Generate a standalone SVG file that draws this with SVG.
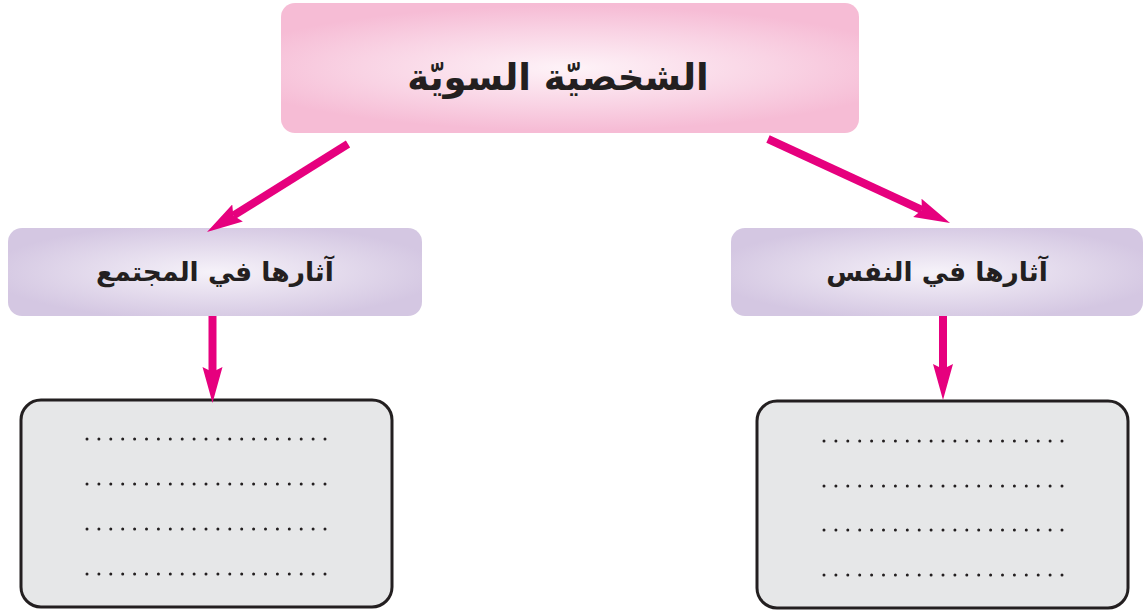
<svg xmlns="http://www.w3.org/2000/svg" width="1148" height="614" viewBox="0 0 1148 614">
<style>
.lbl{font-family:"DejaVu Sans",sans-serif;font-weight:bold;fill:#231f20;text-anchor:middle}
.arr{stroke:#e6007e;stroke-width:8;fill:none;marker-end:url(#head)}
.ans{fill:#e6e7e8;stroke:#231f20;stroke-width:3}
.dots{stroke:#231f20;stroke-width:3;stroke-linecap:round;stroke-dasharray:0 11.9;fill:none}
</style>
<defs>
<radialGradient id="pink" cx="0.5" cy="0.5" r="0.6" gradientTransform="translate(0.5 0.5) scale(1 0.8) translate(-0.5 -0.5)">
<stop offset="0" stop-color="#fef3f8"/>
<stop offset="0.6" stop-color="#f9d3e4"/>
<stop offset="1" stop-color="#f6bcd5"/>
</radialGradient>
<radialGradient id="purple" cx="0.5" cy="0.5" r="0.55">
<stop offset="0" stop-color="#f6f2f9"/>
<stop offset="1" stop-color="#d4c7e2"/>
</radialGradient>
<marker id="head" markerUnits="userSpaceOnUse" viewBox="0 -11 37 22" markerWidth="37" markerHeight="22" refX="5" refY="0" orient="auto">
<path d="M0,-10 L36,0 L0,10 L5,0 Z" fill="#e6007e"/>
</marker>
</defs>
<g id="root">
<rect x="281" y="3" width="578" height="130" rx="14" fill="url(#pink)"/>
<text class="lbl" x="558" y="90" font-size="37">الشخصيّة السويّة</text>
</g>
<g id="society">
<rect x="8" y="228" width="414" height="88" rx="14" fill="url(#purple)"/>
<text class="lbl" x="215" y="281" font-size="26.5">آثارها في المجتمع</text>
</g>
<g id="self">
<rect x="731" y="228" width="412" height="88" rx="14" fill="url(#purple)"/>
<text class="lbl" x="937" y="281" font-size="26.5">آثارها في النفس</text>
</g>
<g id="society-answer">
<rect class="ans" x="21" y="400" width="371" height="207" rx="20"/>
<path class="dots" d="M87,439H326M87,484H326M87,529H326M87,574H326"/>
</g>
<g id="self-answer">
<rect class="ans" x="757" y="401" width="371" height="207" rx="20"/>
<path class="dots" d="M824,441H1063M824,486H1063M824,530H1063M824,575H1063"/>
</g>
<g id="connectors">
<line class="arr" x1="348" y1="144" x2="233.3" y2="215.6"/>
<line class="arr" x1="768" y1="139" x2="921.9" y2="210"/>
<line class="arr" x1="212.5" y1="316" x2="212.5" y2="372"/>
<line class="arr" x1="943" y1="316" x2="943" y2="369"/>
</g>
</svg>
